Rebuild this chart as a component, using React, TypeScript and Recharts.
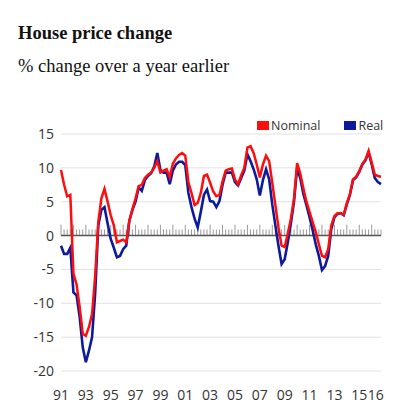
import { LineChart, Line, XAxis, YAxis, CartesianGrid, ReferenceLine, Legend } from "recharts";

// quarterly, % change on a year earlier, 1991 Q1 onwards
const nominal = [
  9.7, 7.5, 5.8, 6.0,
  -5.6, -7.2, -10.5, -14.5,
  -14.8, -13.5, -11.6, -6.0,
  2.0, 5.5, 6.9, 5.0,
  3.0, 1.5, -1.0, -0.8,
  -0.6, -1.0, 2.2, 3.9,
  5.5, 7.3, 7.5, 8.5,
  9.0, 9.3, 10.0, 11.0,
  9.3, 9.6, 9.8, 8.6,
  10.6, 11.4, 11.9, 12.2,
  11.8, 7.9, 6.3, 4.5,
  4.8, 6.3, 8.8, 9.0,
  7.8, 6.5, 5.8, 6.0,
  8.0, 9.6, 9.8, 9.9,
  8.3, 7.6, 8.9, 10.0,
  13.0, 13.2, 12.2, 10.5,
  8.6, 10.5, 11.8, 11.0,
  7.8, 4.5, 1.2, -1.5,
  -1.7, 0.3, 2.5, 5.5,
  10.7, 9.2, 7.0, 5.0,
  3.5, 2.0, 0.5, -1.3,
  -3.0, -3.2, -2.0, 1.5,
  2.9, 3.3, 3.3, 3.1,
  4.8, 6.1, 8.3, 8.7,
  9.5, 10.6, 11.2, 12.5,
  10.8, 9.0, 8.8, 8.7,
];

const real = [
  -1.5, -2.7, -2.7, -1.8,
  -8.4, -8.8, -12.0, -16.5,
  -18.7, -17.0, -15.0, -8.5,
  1.5, 3.8, 4.2, 1.8,
  -0.5, -1.8, -3.2, -3.0,
  -2.0, -1.5, 2.2, 3.8,
  5.0, 7.1, 6.6, 8.2,
  8.8, 9.2, 10.2, 12.2,
  9.7, 9.3, 9.3, 7.6,
  9.6, 10.5, 10.9, 10.9,
  10.4, 6.3, 4.2, 2.5,
  1.2, 3.5, 6.0, 6.8,
  5.1, 5.0, 4.2, 5.1,
  7.5, 9.3, 9.3, 9.3,
  7.9, 7.4, 8.5, 9.6,
  12.0, 11.0, 9.8, 8.3,
  5.9, 8.2, 9.8, 8.3,
  4.6, 1.5, -1.5, -4.2,
  -3.5, -1.0, 1.8, 5.0,
  10.0, 8.5, 6.2, 4.5,
  2.7, 0.8, -1.3, -3.0,
  -5.1, -4.5, -3.0, 1.0,
  2.7, 3.2, 3.3, 3.0,
  4.6, 6.0, 8.2, 8.6,
  9.4, 10.5, 11.1, 12.3,
  10.5, 8.5, 7.9, 7.6,
];

const startYear = 1991;
const yearTicks = [1991, 1993, 1995, 1997, 1999, 2001, 2003, 2005, 2007, 2009, 2011, 2013, 2015, 2016];
const valueTicks = [-20, -15, -10, -5, 0, 5, 10, 15];

const RED = "#ff0d0d";
const BLUE = "#0c1a9c";

const quarters = nominal.map((_, i) => startYear + i / 4);
const data = quarters.map((q, i) => ({ q, nominal: nominal[i], real: real[i] }));

const YearTick = (props: any) => {
  const { x, y, payload } = props;
  const shift = payload.value === 2016 ? 4 : 0;
  return (
    <text x={x + shift} y={y} dy="0.71em" textAnchor="middle" fill="#333" fontSize={14} fontFamily="Open Sans">
      {String(payload.value).slice(2)}
    </text>
  );
};

const order = ["Nominal", "Real"];

const LegendBox = (props: any) => {
  const items = [...(props.payload || [])].sort((a: any, b: any) => order.indexOf(a.value) - order.indexOf(b.value));
  return (
    <div style={{ display: "flex", alignItems: "center", fontFamily: "Open Sans", fontSize: 12.5, color: "#333" }}>
      {items.map((item: any, i: number) => (
        <span key={item.value} style={{ display: "flex", alignItems: "center", marginLeft: i ? 24 : 0 }}>
          <span style={{ width: 12, height: 9, background: item.color, marginRight: 2 }} />
          {item.value}
        </span>
      ))}
    </div>
  );
};

export default function App() {
  return (
    <div style={{ position: "relative", width: 392, height: 398 }}>
      <div style={{ position: "absolute", left: 10, top: 15, fontFamily: "Liberation Serif", fontSize: 18.5, lineHeight: "20px", fontWeight: "bold", color: "#111" }}>
        House price change
      </div>
      <div style={{ position: "absolute", left: 10, top: 48, fontFamily: "Liberation Serif", fontSize: 18.5, lineHeight: "20px", color: "#111" }}>
        % change over a year earlier
      </div>
      <div style={{ position: "absolute", left: 0, top: 100 }}>
        <LineChart width={392} height={300} data={data} margin={{ top: 26, right: 19, bottom: 7, left: 0 }}>
          <CartesianGrid vertical={false} stroke="#e2e2e2" strokeWidth={1} />
          <XAxis
            dataKey="q"
            type="number"
            domain={[1991, 2016.75]}
            ticks={yearTicks}
            interval={0}
            axisLine={false}
            tickLine={false}
            tickSize={8}
            tickMargin={11}
            height={30}
            tick={<YearTick />}
          />
          <YAxis
            type="number"
            domain={[-20, 15]}
            ticks={valueTicks}
            interval={0}
            axisLine={false}
            tickLine={false}
            tickSize={0}
            tickMargin={7}
            width={53}
            tick={{ fill: "#333", fontSize: 14, fontFamily: "Open Sans" }}
          />
          {quarters.map((q, i) => (
            <ReferenceLine
              key={q}
              segment={[{ x: q, y: 0 }, { x: q, y: i % 4 === 0 ? 1.6 : 0.9 }]}
              stroke="#9a9a9a"
              strokeWidth={1}
            />
          ))}
          <ReferenceLine y={0} stroke="#555" strokeWidth={1.5} />
          <Legend
            verticalAlign="middle"
            align="center"
            layout="horizontal"
            wrapperStyle={{ top: 9, left: 249, width: "auto" }}
            content={<LegendBox />}
          />
          <Line type="linear" dataKey="real" name="Real" stroke={BLUE} strokeWidth={2.6} dot={false} isAnimationActive={false} />
          <Line type="linear" dataKey="nominal" name="Nominal" stroke={RED} strokeWidth={2.5} dot={false} isAnimationActive={false} />
        </LineChart>
      </div>
    </div>
  );
}
